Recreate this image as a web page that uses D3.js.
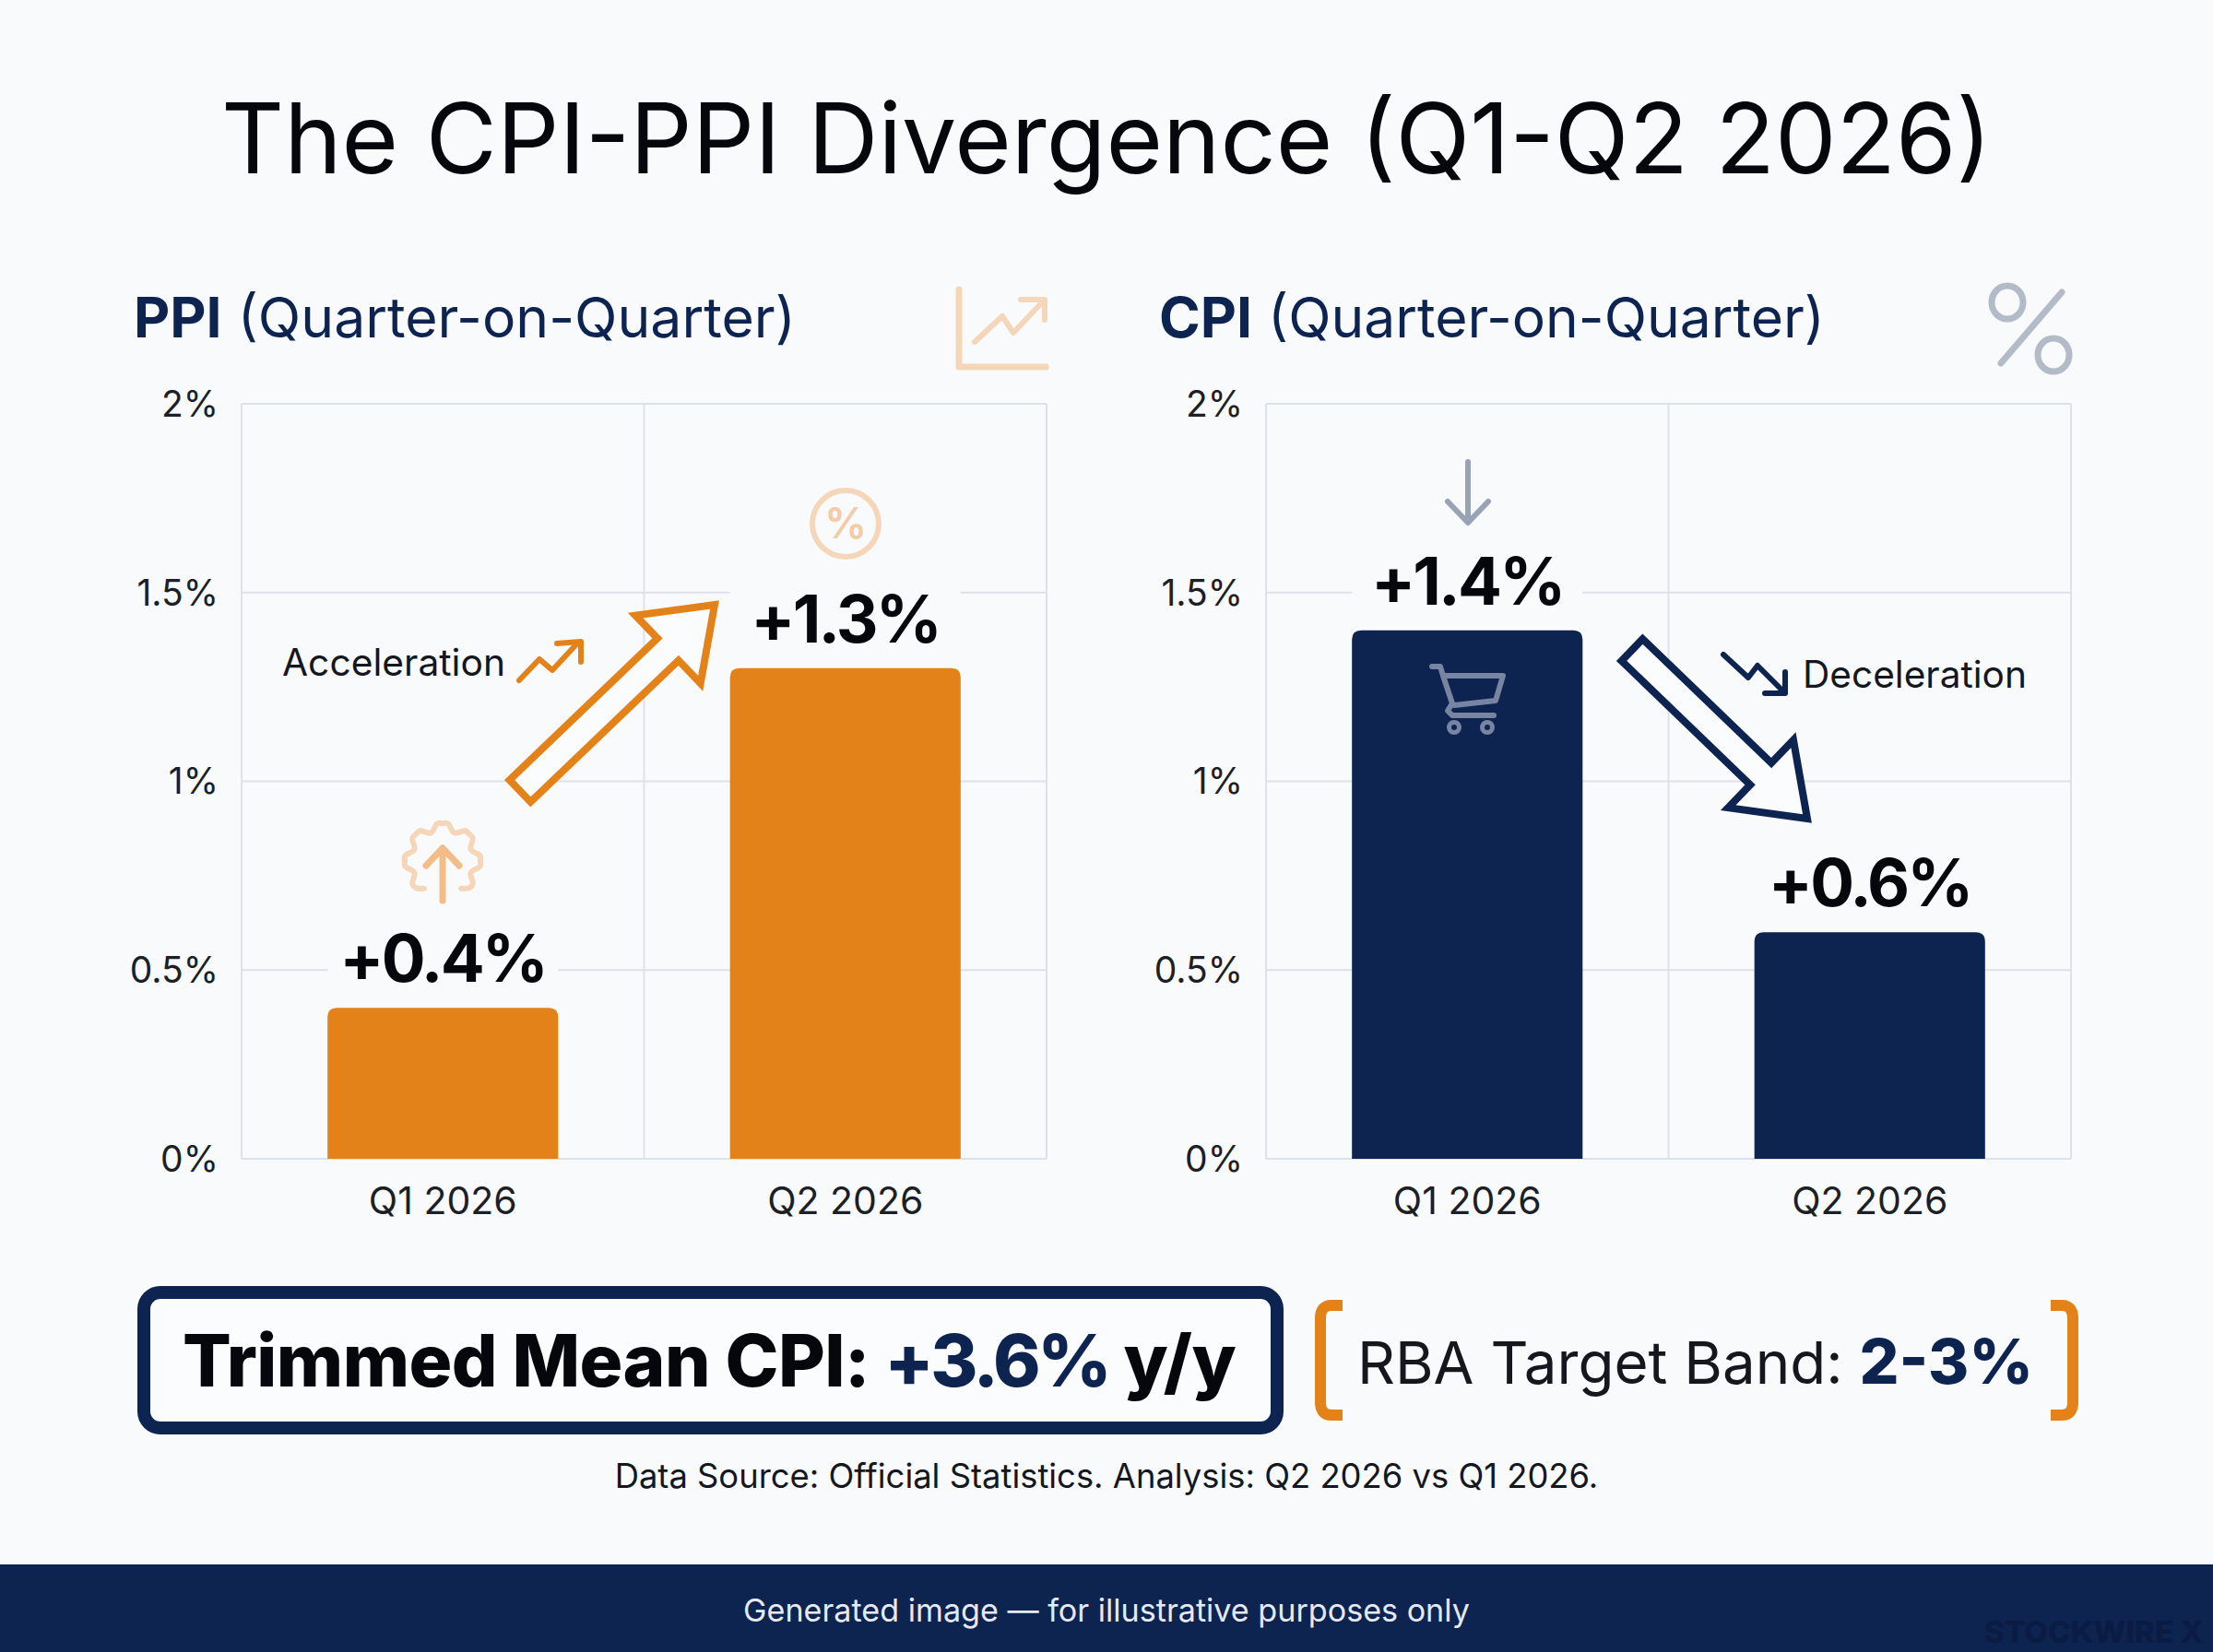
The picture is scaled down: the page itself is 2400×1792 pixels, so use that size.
<!DOCTYPE html>
<html><head><meta charset="utf-8">
<script src="https://cdn.jsdelivr.net/npm/d3@7/dist/d3.min.js"></script>
<style>html,body{margin:0;padding:0;background:#f8fafc}svg{display:block}text{font-family:Inter,sans-serif}</style>
</head><body><svg id="c" width="2400" height="1792"></svg>
<script>
const categories=["Q1 2026","Q2 2026"];
const ppiValues=[0.4,1.3];
const cpiValues=[1.4,0.6];
const yTicks=[0,0.5,1,1.5,2];
const yTickLabels=["0%","0.5%","1%","1.5%","2%"];
const ORANGE="#e4821a",NAVY="#0d2350",GRID="#dde1e8",BG="#f8fafc",BOX="#fbfcfe";
const svg=d3.select("#c");
svg.append("rect").attr("width",2400).attr("height",1792).attr("fill",BG);
function fit(t,w){const n=t.node(),l=n.getComputedTextLength(),s=parseFloat(t.attr("font-size"));t.attr("font-size",s*w/l);return t;}
const line=d3.line();
const y=d3.scaleLinear().domain([0,2]).range([1257,438]);

function blockArrow(x0,y0,x1,y1,sw,hw,hl){
  const a=Math.atan2(y1-y0,x1-x0),L=Math.hypot(x1-x0,y1-y0);
  const P=(u,v)=>[x0+u*Math.cos(a)-v*Math.sin(a),y0+u*Math.sin(a)+v*Math.cos(a)];
  return line([P(0,-sw/2),P(L-hl,-sw/2),P(L-hl,-hw/2),P(L,0),P(L-hl,hw/2),P(L-hl,sw/2),P(0,sw/2)])+"Z";
}
function panel(left,values,color,name,titleX,fullW){
  const g=svg.append("g");
  const x=d3.scaleBand().domain(categories).range([left,left+873]).paddingInner(.427).paddingOuter(.2135);
  const gx=d3.scalePoint().domain([0,1,2]).range([left,left+873]);
  g.append("g").selectAll("line").data(yTicks).join("line").attr("x1",left).attr("x2",left+873)
    .attr("y1",d=>y(d)).attr("y2",d=>y(d)).attr("stroke",GRID).attr("stroke-width",2);
  g.append("g").selectAll("line").data(gx.domain()).join("line").attr("x1",d=>gx(d)).attr("x2",d=>gx(d))
    .attr("y1",y(2)).attr("y2",y(0)).attr("stroke",GRID).attr("stroke-width",2);
  const ya=g.append("g").attr("transform",`translate(${left},1)`).call(d3.axisLeft(y).tickValues(yTicks).tickFormat((d,i)=>yTickLabels[i]).tickSize(0).tickPadding(25));
  ya.select(".domain").remove();
  ya.selectAll("text").attr("font-size",39).attr("fill","#1c1f26").style("font-family","Inter");
  const xa=g.append("g").attr("transform",`translate(0,${y(0)+1})`).call(d3.axisBottom(x).tickSize(0).tickPadding(30));
  xa.select(".domain").remove();
  xa.selectAll("text").attr("font-size",41).attr("fill","#1c1f26").style("font-family","Inter");
  g.append("g").selectAll("rect").data(values).join("rect").attr("x",(d,i)=>x(categories[i])).attr("width",x.bandwidth())
    .attr("y",d=>y(d)-92).attr("height",72).attr("fill",BG);
  const r=10;
  g.append("g").selectAll("path").data(values).join("path").attr("fill",color).attr("d",(d,i)=>{
    const a=x(categories[i]),b=a+x.bandwidth(),t=y(d),z=y(0);
    return `M${a},${z}V${t+r}Q${a},${t} ${a+r},${t}H${b-r}Q${b},${t} ${b},${t+r}V${z}Z`;
  });
  g.append("g").selectAll("text").data(values).join("text").attr("text-anchor","middle")
    .attr("x",(d,i)=>x(categories[i])+x.bandwidth()/2).attr("y",d=>y(d)-28)
    .attr("font-size",71).attr("font-weight",700).attr("letter-spacing",-2.8).attr("fill","#05070c").text(d=>"+"+d.toFixed(1)+"%");
  const tt=g.append("text").attr("x",titleX).attr("y",366).attr("font-size",62).attr("fill",NAVY);
  tt.append("tspan").attr("font-weight",700).text(name);
  tt.append("tspan").attr("font-weight",400).text(" (Quarter-on-Quarter)");
  fit(tt,fullW);
  return {g,x};
}
panel(262,ppiValues,ORANGE,"PPI",145,718);
panel(1373,cpiValues,NAVY,"CPI",1257,722);

fit(svg.append("text").attr("x",1200).attr("y",188).attr("text-anchor","middle").attr("font-size",104).attr("fill","#05070c")
  .text("The CPI-PPI Divergence (Q1-Q2 2026)"),1920);

const ink=(g,pts,col,w,fill)=>g.append("path").attr("d",typeof pts==="string"?pts:line(pts)).attr("fill",fill||"none").attr("stroke",col).attr("stroke-width",w).attr("stroke-linecap","round").attr("stroke-linejoin","round");

// PPI annotations
const a=svg.append("g");
a.append("path").attr("d",blockArrow(564,858,775,656,33,102,70)).attr("fill",BOX).attr("stroke",ORANGE).attr("stroke-width",8).attr("stroke-linejoin","miter").attr("stroke-miterlimit",6);
fit(a.append("text").attr("x",306).attr("y",733).attr("font-size",42).attr("fill","#14171d").text("Acceleration"),242);
ink(a,[[563,738],[585,715],[599,727],[625,699]],ORANGE,6);
ink(a,[[604,698],[630,696],[630,718]],ORANGE,6);
const P1="#f5d6b9";
ink(a,[[1040,314],[1040,398],[1134,398]],P1,7);
ink(a,[[1057,371],[1087,343],[1099,361],[1131,327]],P1,6);
ink(a,[[1107,325],[1133,325],[1133,347]],P1,6);
a.append("circle").attr("cx",917).attr("cy",568).attr("r",36).attr("fill","none").attr("stroke",P1).attr("stroke-width",6);
a.append("text").attr("x",917).attr("y",584).attr("text-anchor","middle").attr("font-size",46).attr("font-weight",600).attr("fill","#f3cba6").text("%");
// gear with arrow: open at the bottom, smooth outline
const cx=480,cy=934,rad=d=>d*Math.PI/180;
const gearAngles=[-146,-135,-127,-112.5,-98,-90,-82,-67.5,-53,-45,-37,-22.5,-8,0,8,22.5,37,45,53,67.5,82,90,98,112.5,127,135,146];
const gearRadii=[36,41,41,33,41,41,41,33,41,41,41,33,41,41,41,33,41,41,41,33,41,41,41,33,41,41,36];
const gearLine=d3.line().curve(d3.curveCatmullRom);
ink(a,gearLine(gearAngles.map((d,i)=>[cx+gearRadii[i]*Math.sin(rad(d)),cy-gearRadii[i]*Math.cos(rad(d))])),P1,6);
ink(a,[[cx,977],[cx,920]],"#f4bd87",7);
ink(a,[[cx-18,939],[cx,920],[cx+18,939]],"#f4bd87",7);

// CPI annotations
const b=svg.append("g");
b.append("path").attr("d",blockArrow(1770,705,1960,888,33,102,70)).attr("fill",BOX).attr("stroke",NAVY).attr("stroke-width",8).attr("stroke-linejoin","miter").attr("stroke-miterlimit",6);
fit(b.append("text").attr("x",1955).attr("y",746).attr("font-size",42).attr("fill","#14171d").text("Deceleration"),243);
ink(b,[[1869,710],[1896,735],[1906,722],[1934,750]],NAVY,6);
ink(b,[[1914,752],[1936,752],[1936,729]],NAVY,6);
const P2="#b4bbc8";
ink(b,[[2236,317],[2170,394]],P2,7);
b.append("ellipse").attr("cx",2177).attr("cy",328).attr("rx",17).attr("ry",18).attr("fill","none").attr("stroke",P2).attr("stroke-width",7);
b.append("ellipse").attr("cx",2227).attr("cy",385).attr("rx",17).attr("ry",18).attr("fill","none").attr("stroke",P2).attr("stroke-width",7);
const P3="#98a3b8";
ink(b,[[1592,501],[1592,566]],P3,6);
ink(b,[[1570,544],[1592,567],[1614,544]],P3,6);
// cart
const C="#7785a3";
ink(b,[[1553,723],[1562,723],[1565,733],[1575,763],[1570,771],[1575,776],[1620,776]],C,6);
ink(b,[[1567,733],[1630,733],[1622,760],[1577,765]],C,6);
b.append("circle").attr("cx",1577).attr("cy",789).attr("r",5.5).attr("fill","none").attr("stroke",C).attr("stroke-width",5);
b.append("circle").attr("cx",1613).attr("cy",789).attr("r",5.5).attr("fill","none").attr("stroke",C).attr("stroke-width",5);

// bottom callouts
const f=svg.append("g");
f.append("rect").attr("x",156).attr("y",1402).attr("width",1229).attr("height",147).attr("rx",18).attr("fill",BOX).attr("stroke",NAVY).attr("stroke-width",14);
const tm=f.append("text").attr("x",198).attr("y",1504).attr("font-size",80).attr("font-weight",800).attr("fill","#05070c");
tm.append("tspan").attr("letter-spacing",-0.6).text("Trimmed Mean CPI: ");
tm.append("tspan").attr("fill",NAVY).attr("letter-spacing",-3.5).text("+3.6%");
tm.append("tspan").attr("letter-spacing",-0.6).text(" y/y");
fit(tm,1143);
f.append("path").attr("d",`M1456,1416H1444Q1432,1416 1432,1430V1521Q1432,1535 1444,1535H1456`).attr("fill","none").attr("stroke",ORANGE).attr("stroke-width",12);
f.append("path").attr("d",`M2224,1416H2236Q2248,1416 2248,1430V1521Q2248,1535 2236,1535H2224`).attr("fill","none").attr("stroke",ORANGE).attr("stroke-width",12);
const rb=f.append("text").attr("x",1472).attr("y",1501).attr("font-size",66).attr("fill","#14171d");
rb.append("tspan").text("RBA Target Band: ");
rb.append("tspan").attr("font-weight",800).attr("font-size","1.06em").attr("fill",NAVY).text("2-3%");
fit(rb,733);
fit(f.append("text").attr("x",1200).attr("y",1614).attr("text-anchor","middle").attr("font-size",37).attr("fill","#14171d")
  .text("Data Source: Official Statistics. Analysis: Q2 2026 vs Q1 2026."),1067);
f.append("rect").attr("x",0).attr("y",1697).attr("width",2400).attr("height",95).attr("fill",NAVY);
fit(f.append("text").attr("x",1200).attr("y",1759).attr("text-anchor","middle").attr("font-size",34).attr("fill","#e4e9f2")
  .text("Generated image — for illustrative purposes only"),788);
fit(f.append("text").attr("x",2152).attr("y",1782).attr("font-size",34).attr("font-weight",800).attr("fill","#0a1c44")
  .text("STOCKWIRE X"),238);
</script></body></html>
